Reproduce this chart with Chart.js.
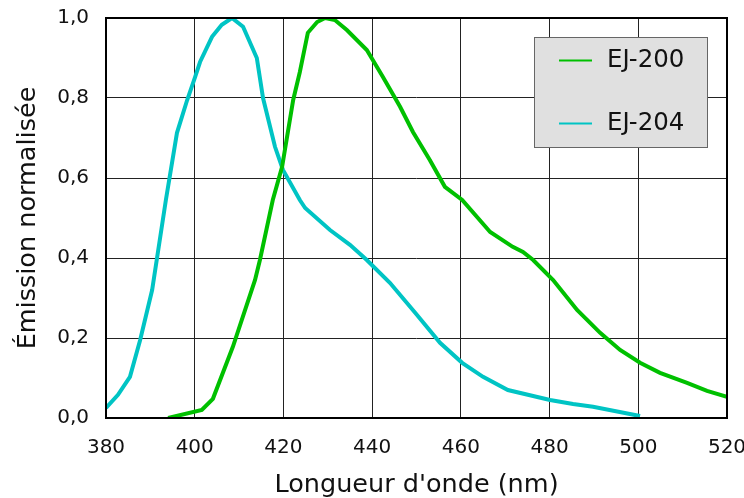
<!DOCTYPE html>
<html>
<head>
<meta charset="utf-8">
<script src="https://cdn.jsdelivr.net/npm/chart.js@4"></script>
<style>
  html, body { margin: 0; padding: 0; background: #ffffff; }
  #wrap { width: 744px; height: 498px; }
</style>
</head>
<body>
<div id="wrap"><canvas id="c" width="744" height="498"></canvas></div>
<script>
// ---- data ----
const seriesNames = ["EJ-200", "EJ-204"];

const ej200Wavelengths = [394.0, 401.6, 404.1, 408.6, 413.6, 414.7, 417.6, 419.7, 422.2, 423.7, 425.5, 427.6, 429.4, 431.6, 434.3, 438.8, 442.4, 446.3, 449.2, 453.0, 456.4, 460.3, 466.6, 471.7, 474.0, 476.3, 480.8, 486.2, 491.4, 495.9, 500.4, 504.9, 511.0, 515.5, 520.0];
const ej200Values      = [0.000, 0.020, 0.048, 0.178, 0.345, 0.395, 0.545, 0.628, 0.795, 0.865, 0.963, 0.990, 1.000, 0.995, 0.970, 0.920, 0.853, 0.778, 0.715, 0.645, 0.578, 0.545, 0.465, 0.428, 0.415, 0.395, 0.345, 0.270, 0.213, 0.170, 0.138, 0.113, 0.088, 0.068, 0.053];

const ej204Wavelengths = [380.0, 382.7, 385.4, 387.7, 390.4, 393.5, 396.0, 398.3, 400.1, 401.2, 403.9, 406.1, 408.4, 410.9, 414.0, 415.4, 418.1, 419.9, 423.7, 424.9, 430.5, 435.0, 438.8, 444.0, 449.7, 455.3, 460.3, 465.0, 470.6, 480.1, 485.3, 489.8, 500.4];
const ej204Values      = [0.025, 0.058, 0.103, 0.195, 0.320, 0.545, 0.713, 0.795, 0.853, 0.890, 0.953, 0.983, 1.000, 0.978, 0.900, 0.800, 0.678, 0.620, 0.545, 0.525, 0.470, 0.433, 0.395, 0.338, 0.263, 0.188, 0.138, 0.103, 0.070, 0.045, 0.035, 0.028, 0.005];

const xTickValues = [380, 400, 420, 440, 460, 480, 500, 520];
const yTickValues = [0, 0.2, 0.4, 0.6, 0.8, 1.0];

const xTitle = "Longueur d'onde (nm)";
const yTitle = "Émission normalisée";
// ------------------------------------------------

const FONT = "'DejaVu Sans', sans-serif";
const colors = ["#00c000", "#00c4c4"];

function toPoints(xs, ys) { return xs.map((x, i) => ({ x: x, y: ys[i] })); }

function zeroPad(axis) {
  axis.paddingTop = 0; axis.paddingBottom = 0;
  axis.paddingLeft = 0; axis.paddingRight = 0;
}

const frameAndLegend = {
  id: 'frameAndLegend',
  afterDraw(chart) {
    const ctx = chart.ctx;
    const a = chart.chartArea;
    ctx.save();
    ctx.strokeStyle = '#000';
    ctx.lineWidth = 2;
    ctx.strokeRect(a.left, a.top, a.right - a.left, a.bottom - a.top);

    // legend box
    const bx = 534, by = 37, bw = 173, bh = 110;
    ctx.fillStyle = '#e0e0e0';
    ctx.fillRect(bx, by, bw, bh);
    ctx.strokeStyle = '#666';
    ctx.lineWidth = 1;
    ctx.strokeRect(bx + 0.5, by + 0.5, bw, bh);

    const rows = [60, 123];
    ctx.font = "24.5px " + FONT;
    ctx.textBaseline = 'middle';
    ctx.textAlign = 'left';
    chart.data.datasets.forEach((ds, i) => {
      const y = rows[i];
      ctx.strokeStyle = ds.borderColor;
      ctx.lineWidth = 2;
      ctx.beginPath();
      ctx.moveTo(bx + 25, y + 0.5);
      ctx.lineTo(bx + 58, y + 0.5);
      ctx.stroke();
      ctx.fillStyle = '#111';
      ctx.fillText(ds.label, bx + 73, y + 1);
    });
    ctx.restore();
  }
};

new Chart(document.getElementById('c'), {
  type: 'line',
  data: {
    datasets: [
      { label: seriesNames[0], data: toPoints(ej200Wavelengths, ej200Values), borderColor: colors[0], backgroundColor: colors[0], borderWidth: 4, pointRadius: 0, tension: 0, fill: false },
      { label: seriesNames[1], data: toPoints(ej204Wavelengths, ej204Values), borderColor: colors[1], backgroundColor: colors[1], borderWidth: 4, pointRadius: 0, tension: 0, fill: false }
    ]
  },
  options: {
    responsive: false,
    animation: false,
    devicePixelRatio: 1,
    layout: { padding: { top: 18, right: 17, left: 0, bottom: 0 } },
    plugins: { legend: { display: false }, tooltip: { enabled: false } },
    scales: {
      x: {
        type: 'linear',
        min: 380, max: 520,
        afterFit(axis) { axis.height = 80; zeroPad(axis); },
        afterBuildTicks(axis) { axis.ticks = xTickValues.map(v => ({ value: v })); },
        ticks: { color: '#111', font: { family: FONT, size: 20 }, padding: 18, maxRotation: 0, callback: v => String(v) },
        grid: { color: '#222', lineWidth: 1, drawTicks: false },
        border: { display: false },
        title: { display: true, text: xTitle, color: '#111', font: { family: FONT, size: 25.5, lineHeight: 1.0 }, padding: { top: 0, bottom: 0 } }
      },
      y: {
        type: 'linear',
        min: 0, max: 1,
        afterFit(axis) { axis.width = 106; zeroPad(axis); },
        afterBuildTicks(axis) { axis.ticks = yTickValues.map(v => ({ value: v })); },
        ticks: { color: '#111', font: { family: FONT, size: 20 }, padding: 17, callback: v => v.toFixed(1).replace('.', ',') },
        grid: { color: '#222', lineWidth: 1, drawTicks: false },
        border: { display: false },
        title: { display: true, text: yTitle, color: '#111', font: { family: FONT, size: 25.5, lineHeight: 1.0 }, padding: { top: 16, bottom: 0 } }
      }
    }
  },
  plugins: [frameAndLegend]
});
</script>
</body>
</html>
